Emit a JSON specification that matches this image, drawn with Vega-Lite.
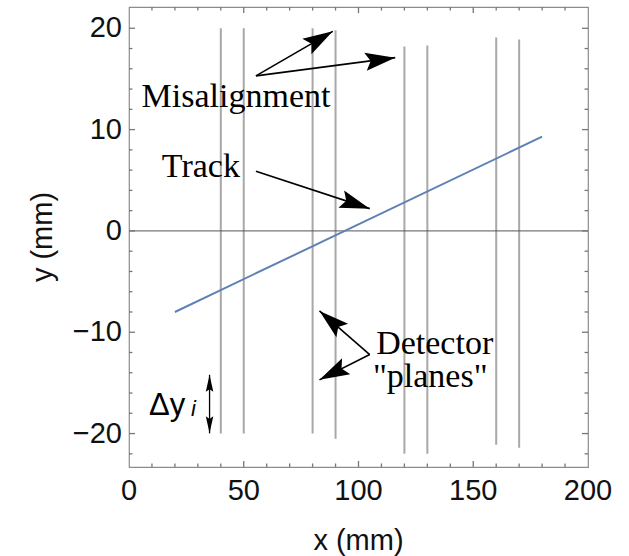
{
  "$schema": "https://vega.github.io/schema/vega-lite/v6.json",
  "width": 459,
  "height": 460,
  "autosize": {"type": "none"},
  "padding": {"left": 129, "top": 7, "right": 41, "bottom": 89},
  "background": "white",
  "config": {
    "view": {"stroke": "#8c8c8c", "strokeWidth": 1.2}
  },
  "datasets": {
    "planes": [
      {"x": 40, "y1": -20, "y2": 20},
      {"x": 50, "y1": -20, "y2": 20},
      {"x": 80, "y1": -20, "y2": 20},
      {"x": 90, "y1": -20.5, "y2": 19.8},
      {"x": 120, "y1": -22, "y2": 18.2},
      {"x": 130, "y1": -22, "y2": 18.3},
      {"x": 160, "y1": -21.1, "y2": 19.1},
      {"x": 170, "y1": -21.4, "y2": 18.9}
    ],
    "track": [
      {"x": 20, "y": -8},
      {"x": 180, "y": 9.3}
    ],
    "arrows": [
      {"x": 55.3, "y": 15.3, "x2": 88.8, "y2": 19.7, "angle": -30.3},
      {"x": 55.3, "y": 15.3, "x2": 116.0, "y2": 17.1, "angle": -7.9},
      {"x": 55.3, "y": 5.9, "x2": 104.9, "y2": 2.2, "angle": 18.4},
      {"x": 104.9, "y": -12.2, "x2": 83.0, "y2": -7.9, "angle": -139.3},
      {"x": 104.9, "y": -12.2, "x2": 83.0, "y2": -14.7, "angle": 152.9}
    ],
    "dyarrow": [
      {"x": 35.1, "y": -14.2, "y2": -19.98}
    ],
    "dyheads": [
      {"x": 35.1, "y": -14.2, "angle": -90},
      {"x": 35.1, "y": -19.98, "angle": 90}
    ],
    "xmajor": [{"v": 50}, {"v": 100}, {"v": 150}],
    "xminor": [{"v": 10}, {"v": 20}, {"v": 30}, {"v": 40}, {"v": 60}, {"v": 70}, {"v": 80}, {"v": 90}, {"v": 110}, {"v": 120}, {"v": 130}, {"v": 140}, {"v": 160}, {"v": 170}, {"v": 180}, {"v": 190}],
    "ymajor": [{"v": -20}, {"v": -10}, {"v": 0}, {"v": 10}, {"v": 20}],
    "yminor": [{"v": -22}, {"v": -18}, {"v": -16}, {"v": -14}, {"v": -12}, {"v": -8}, {"v": -6}, {"v": -4}, {"v": -2}, {"v": 2}, {"v": 4}, {"v": 6}, {"v": 8}, {"v": 12}, {"v": 14}, {"v": 16}, {"v": 18}],
    "xlabels": [{"v": 0, "label": "0"}, {"v": 50, "label": "50"}, {"v": 100, "label": "100"}, {"v": 150, "label": "150"}, {"v": 200, "label": "200"}],
    "ylabels": [{"v": -20, "label": "−20"}, {"v": -10, "label": "−10"}, {"v": 0, "label": "0"}, {"v": 10, "label": "10"}, {"v": 20, "label": "20"}]
  },
  "layer": [
    {
      "data": {"name": "planes"},
      "mark": {"type": "rule", "color": "#a8a8a8", "strokeWidth": 2},
      "encoding": {
        "x": {"field": "x", "type": "quantitative", "scale": {"domain": [0, 200], "nice": false, "zero": false}, "axis": null},
        "y": {"field": "y1", "type": "quantitative", "scale": {"domain": [-23.3, 22.1], "nice": false, "zero": false}, "axis": null},
        "y2": {"field": "y2"}
      }
    },
    {
      "data": {"values": [{"y": 0}]},
      "mark": {"type": "rule", "color": "#555555", "strokeWidth": 1},
      "encoding": {
        "y": {"field": "y", "type": "quantitative", "scale": {"domain": [-23.3, 22.1], "nice": false, "zero": false}, "axis": null}
      }
    },
    {
      "data": {"name": "xlabels"},
      "mark": {"type": "text", "font": "Liberation Sans", "fontSize": 29, "align": "center", "baseline": "top", "dy": 10, "color": "#111"},
      "encoding": {
        "x": {"field": "v", "type": "quantitative", "scale": {"domain": [0, 200], "nice": false, "zero": false}, "axis": null},
        "y": {"datum": -23.3, "type": "quantitative", "scale": {"domain": [-23.3, 22.1], "nice": false, "zero": false}, "axis": null},
        "text": {"field": "label"}
      }
    },
    {
      "data": {"name": "ylabels"},
      "mark": {"type": "text", "font": "Liberation Sans", "fontSize": 29, "align": "right", "baseline": "middle", "dx": -7, "color": "#111"},
      "encoding": {
        "y": {"field": "v", "type": "quantitative", "scale": {"domain": [-23.3, 22.1], "nice": false, "zero": false}, "axis": null},
        "x": {"datum": 0, "type": "quantitative", "scale": {"domain": [0, 200], "nice": false, "zero": false}, "axis": null},
        "text": {"field": "label"}
      }
    },
    {
      "data": {"values": [{"x": 100, "label": "x (mm)"}]},
      "mark": {"type": "text", "font": "Liberation Sans", "fontSize": 29, "align": "center", "baseline": "top", "dy": 60, "color": "#111"},
      "encoding": {
        "x": {"field": "x", "type": "quantitative", "scale": {"domain": [0, 200], "nice": false, "zero": false}, "axis": null},
        "y": {"datum": -23.3, "type": "quantitative", "scale": {"domain": [-23.3, 22.1], "nice": false, "zero": false}, "axis": null},
        "text": {"field": "label"}
      }
    },
    {
      "data": {"values": [{"y": -0.6, "label": "y (mm)"}]},
      "mark": {"type": "text", "font": "Liberation Sans", "fontSize": 29, "align": "center", "baseline": "bottom", "angle": 270, "dy": -71, "color": "#111"},
      "encoding": {
        "y": {"field": "y", "type": "quantitative", "scale": {"domain": [-23.3, 22.1], "nice": false, "zero": false}, "axis": null},
        "x": {"datum": 0, "type": "quantitative", "scale": {"domain": [0, 200], "nice": false, "zero": false}, "axis": null},
        "text": {"field": "label"}
      }
    },
    {
      "data": {"name": "track"},
      "mark": {"type": "line", "color": "#5e81b5", "strokeWidth": 2},
      "encoding": {
        "x": {"field": "x", "type": "quantitative", "scale": {"domain": [0, 200], "nice": false, "zero": false}, "axis": null},
        "y": {"field": "y", "type": "quantitative", "scale": {"domain": [-23.3, 22.1], "nice": false, "zero": false}, "axis": null}
      }
    },
    {
      "data": {"name": "arrows"},
      "mark": {"type": "rule", "color": "black", "strokeWidth": 1.6},
      "encoding": {
        "x": {"field": "x", "type": "quantitative", "scale": {"domain": [0, 200], "nice": false, "zero": false}, "axis": null},
        "y": {"field": "y", "type": "quantitative", "scale": {"domain": [-23.3, 22.1], "nice": false, "zero": false}, "axis": null},
        "x2": {"field": "x2"},
        "y2": {"field": "y2"}
      }
    },
    {
      "data": {"name": "arrows"},
      "mark": {"type": "point", "filled": true, "color": "black", "opacity": 1, "size": 900, "shape": "M0,0 L-2,-0.6 L-1.65,0 L-2,0.6 Z"},
      "encoding": {
        "x": {"field": "x2", "type": "quantitative", "scale": {"domain": [0, 200], "nice": false, "zero": false}, "axis": null},
        "y": {"field": "y2", "type": "quantitative", "scale": {"domain": [-23.3, 22.1], "nice": false, "zero": false}, "axis": null},
        "angle": {"field": "angle", "type": "quantitative", "scale": null}
      }
    },
    {
      "data": {"name": "dyarrow"},
      "mark": {"type": "rule", "color": "black", "strokeWidth": 1.3},
      "encoding": {
        "x": {"field": "x", "type": "quantitative", "scale": {"domain": [0, 200], "nice": false, "zero": false}, "axis": null},
        "y": {"field": "y", "type": "quantitative", "scale": {"domain": [-23.3, 22.1], "nice": false, "zero": false}, "axis": null},
        "y2": {"field": "y2"}
      }
    },
    {
      "data": {"name": "dyheads"},
      "mark": {"type": "point", "filled": true, "color": "black", "opacity": 1, "size": 289, "shape": "M0,0 L-2,-0.44 L-1.7,0 L-2,0.44 Z"},
      "encoding": {
        "x": {"field": "x", "type": "quantitative", "scale": {"domain": [0, 200], "nice": false, "zero": false}, "axis": null},
        "y": {"field": "y", "type": "quantitative", "scale": {"domain": [-23.3, 22.1], "nice": false, "zero": false}, "axis": null},
        "angle": {"field": "angle", "type": "quantitative", "scale": null}
      }
    },
    {
      "data": {"values": [
        {"x": 5.5, "y": 12.2, "label": "Misalignment"},
        {"x": 14.3, "y": 5.36, "label": "Track"},
        {"x": 107.7, "y": -12.17, "label": "Detector"},
        {"x": 106.3, "y": -15.45, "label": "\"planes\""}
      ]},
      "mark": {"type": "text", "font": "Liberation Serif", "fontSize": 34, "align": "left", "baseline": "alphabetic", "color": "black"},
      "encoding": {
        "x": {"field": "x", "type": "quantitative", "scale": {"domain": [0, 200], "nice": false, "zero": false}, "axis": null},
        "y": {"field": "y", "type": "quantitative", "scale": {"domain": [-23.3, 22.1], "nice": false, "zero": false}, "axis": null},
        "text": {"field": "label"}
      }
    },
    {
      "data": {"values": [{"x": 8.7, "y": -18.17, "label": "Δy"}]},
      "mark": {"type": "text", "font": "Liberation Sans", "fontSize": 31, "align": "left", "baseline": "alphabetic", "color": "black"},
      "encoding": {
        "x": {"field": "x", "type": "quantitative", "scale": {"domain": [0, 200], "nice": false, "zero": false}, "axis": null},
        "y": {"field": "y", "type": "quantitative", "scale": {"domain": [-23.3, 22.1], "nice": false, "zero": false}, "axis": null},
        "text": {"field": "label"}
      }
    },
    {
      "data": {"values": [{"x": 27.0, "y": -18.25, "label": "i"}]},
      "mark": {"type": "text", "font": "Liberation Sans", "fontSize": 22, "fontStyle": "italic", "align": "left", "baseline": "alphabetic", "color": "black"},
      "encoding": {
        "x": {"field": "x", "type": "quantitative", "scale": {"domain": [0, 200], "nice": false, "zero": false}, "axis": null},
        "y": {"field": "y", "type": "quantitative", "scale": {"domain": [-23.3, 22.1], "nice": false, "zero": false}, "axis": null},
        "text": {"field": "label"}
      }
    },
    {
      "data": {"name": "xmajor"},
      "mark": {"type": "rule", "color": "#777777", "strokeWidth": 1.3},
      "encoding": {
        "x": {"field": "v", "type": "quantitative", "scale": {"domain": [0, 200], "nice": false, "zero": false}, "axis": null},
        "y": {"datum": -23.3, "type": "quantitative", "scale": {"domain": [-23.3, 22.1], "nice": false, "zero": false}, "axis": null},
        "y2": {"datum": -22.7}
      }
    },
    {
      "data": {"name": "xmajor"},
      "mark": {"type": "rule", "color": "#777777", "strokeWidth": 1.3},
      "encoding": {
        "x": {"field": "v", "type": "quantitative", "scale": {"domain": [0, 200], "nice": false, "zero": false}, "axis": null},
        "y": {"datum": 22.1, "type": "quantitative", "scale": {"domain": [-23.3, 22.1], "nice": false, "zero": false}, "axis": null},
        "y2": {"datum": 21.5}
      }
    },
    {
      "data": {"name": "xminor"},
      "mark": {"type": "rule", "color": "#777777", "strokeWidth": 1.3},
      "encoding": {
        "x": {"field": "v", "type": "quantitative", "scale": {"domain": [0, 200], "nice": false, "zero": false}, "axis": null},
        "y": {"datum": -23.3, "type": "quantitative", "scale": {"domain": [-23.3, 22.1], "nice": false, "zero": false}, "axis": null},
        "y2": {"datum": -22.95}
      }
    },
    {
      "data": {"name": "xminor"},
      "mark": {"type": "rule", "color": "#777777", "strokeWidth": 1.3},
      "encoding": {
        "x": {"field": "v", "type": "quantitative", "scale": {"domain": [0, 200], "nice": false, "zero": false}, "axis": null},
        "y": {"datum": 22.1, "type": "quantitative", "scale": {"domain": [-23.3, 22.1], "nice": false, "zero": false}, "axis": null},
        "y2": {"datum": 21.75}
      }
    },
    {
      "data": {"name": "ymajor"},
      "mark": {"type": "rule", "color": "#777777", "strokeWidth": 1.3},
      "encoding": {
        "y": {"field": "v", "type": "quantitative", "scale": {"domain": [-23.3, 22.1], "nice": false, "zero": false}, "axis": null},
        "x": {"datum": 0, "type": "quantitative", "scale": {"domain": [0, 200], "nice": false, "zero": false}, "axis": null},
        "x2": {"datum": 2.6}
      }
    },
    {
      "data": {"name": "ymajor"},
      "mark": {"type": "rule", "color": "#777777", "strokeWidth": 1.3},
      "encoding": {
        "y": {"field": "v", "type": "quantitative", "scale": {"domain": [-23.3, 22.1], "nice": false, "zero": false}, "axis": null},
        "x": {"datum": 200, "type": "quantitative", "scale": {"domain": [0, 200], "nice": false, "zero": false}, "axis": null},
        "x2": {"datum": 197.4}
      }
    },
    {
      "data": {"name": "yminor"},
      "mark": {"type": "rule", "color": "#777777", "strokeWidth": 1.3},
      "encoding": {
        "y": {"field": "v", "type": "quantitative", "scale": {"domain": [-23.3, 22.1], "nice": false, "zero": false}, "axis": null},
        "x": {"datum": 0, "type": "quantitative", "scale": {"domain": [0, 200], "nice": false, "zero": false}, "axis": null},
        "x2": {"datum": 1.5}
      }
    },
    {
      "data": {"name": "yminor"},
      "mark": {"type": "rule", "color": "#777777", "strokeWidth": 1.3},
      "encoding": {
        "y": {"field": "v", "type": "quantitative", "scale": {"domain": [-23.3, 22.1], "nice": false, "zero": false}, "axis": null},
        "x": {"datum": 200, "type": "quantitative", "scale": {"domain": [0, 200], "nice": false, "zero": false}, "axis": null},
        "x2": {"datum": 198.5}
      }
    }
  ]
}
